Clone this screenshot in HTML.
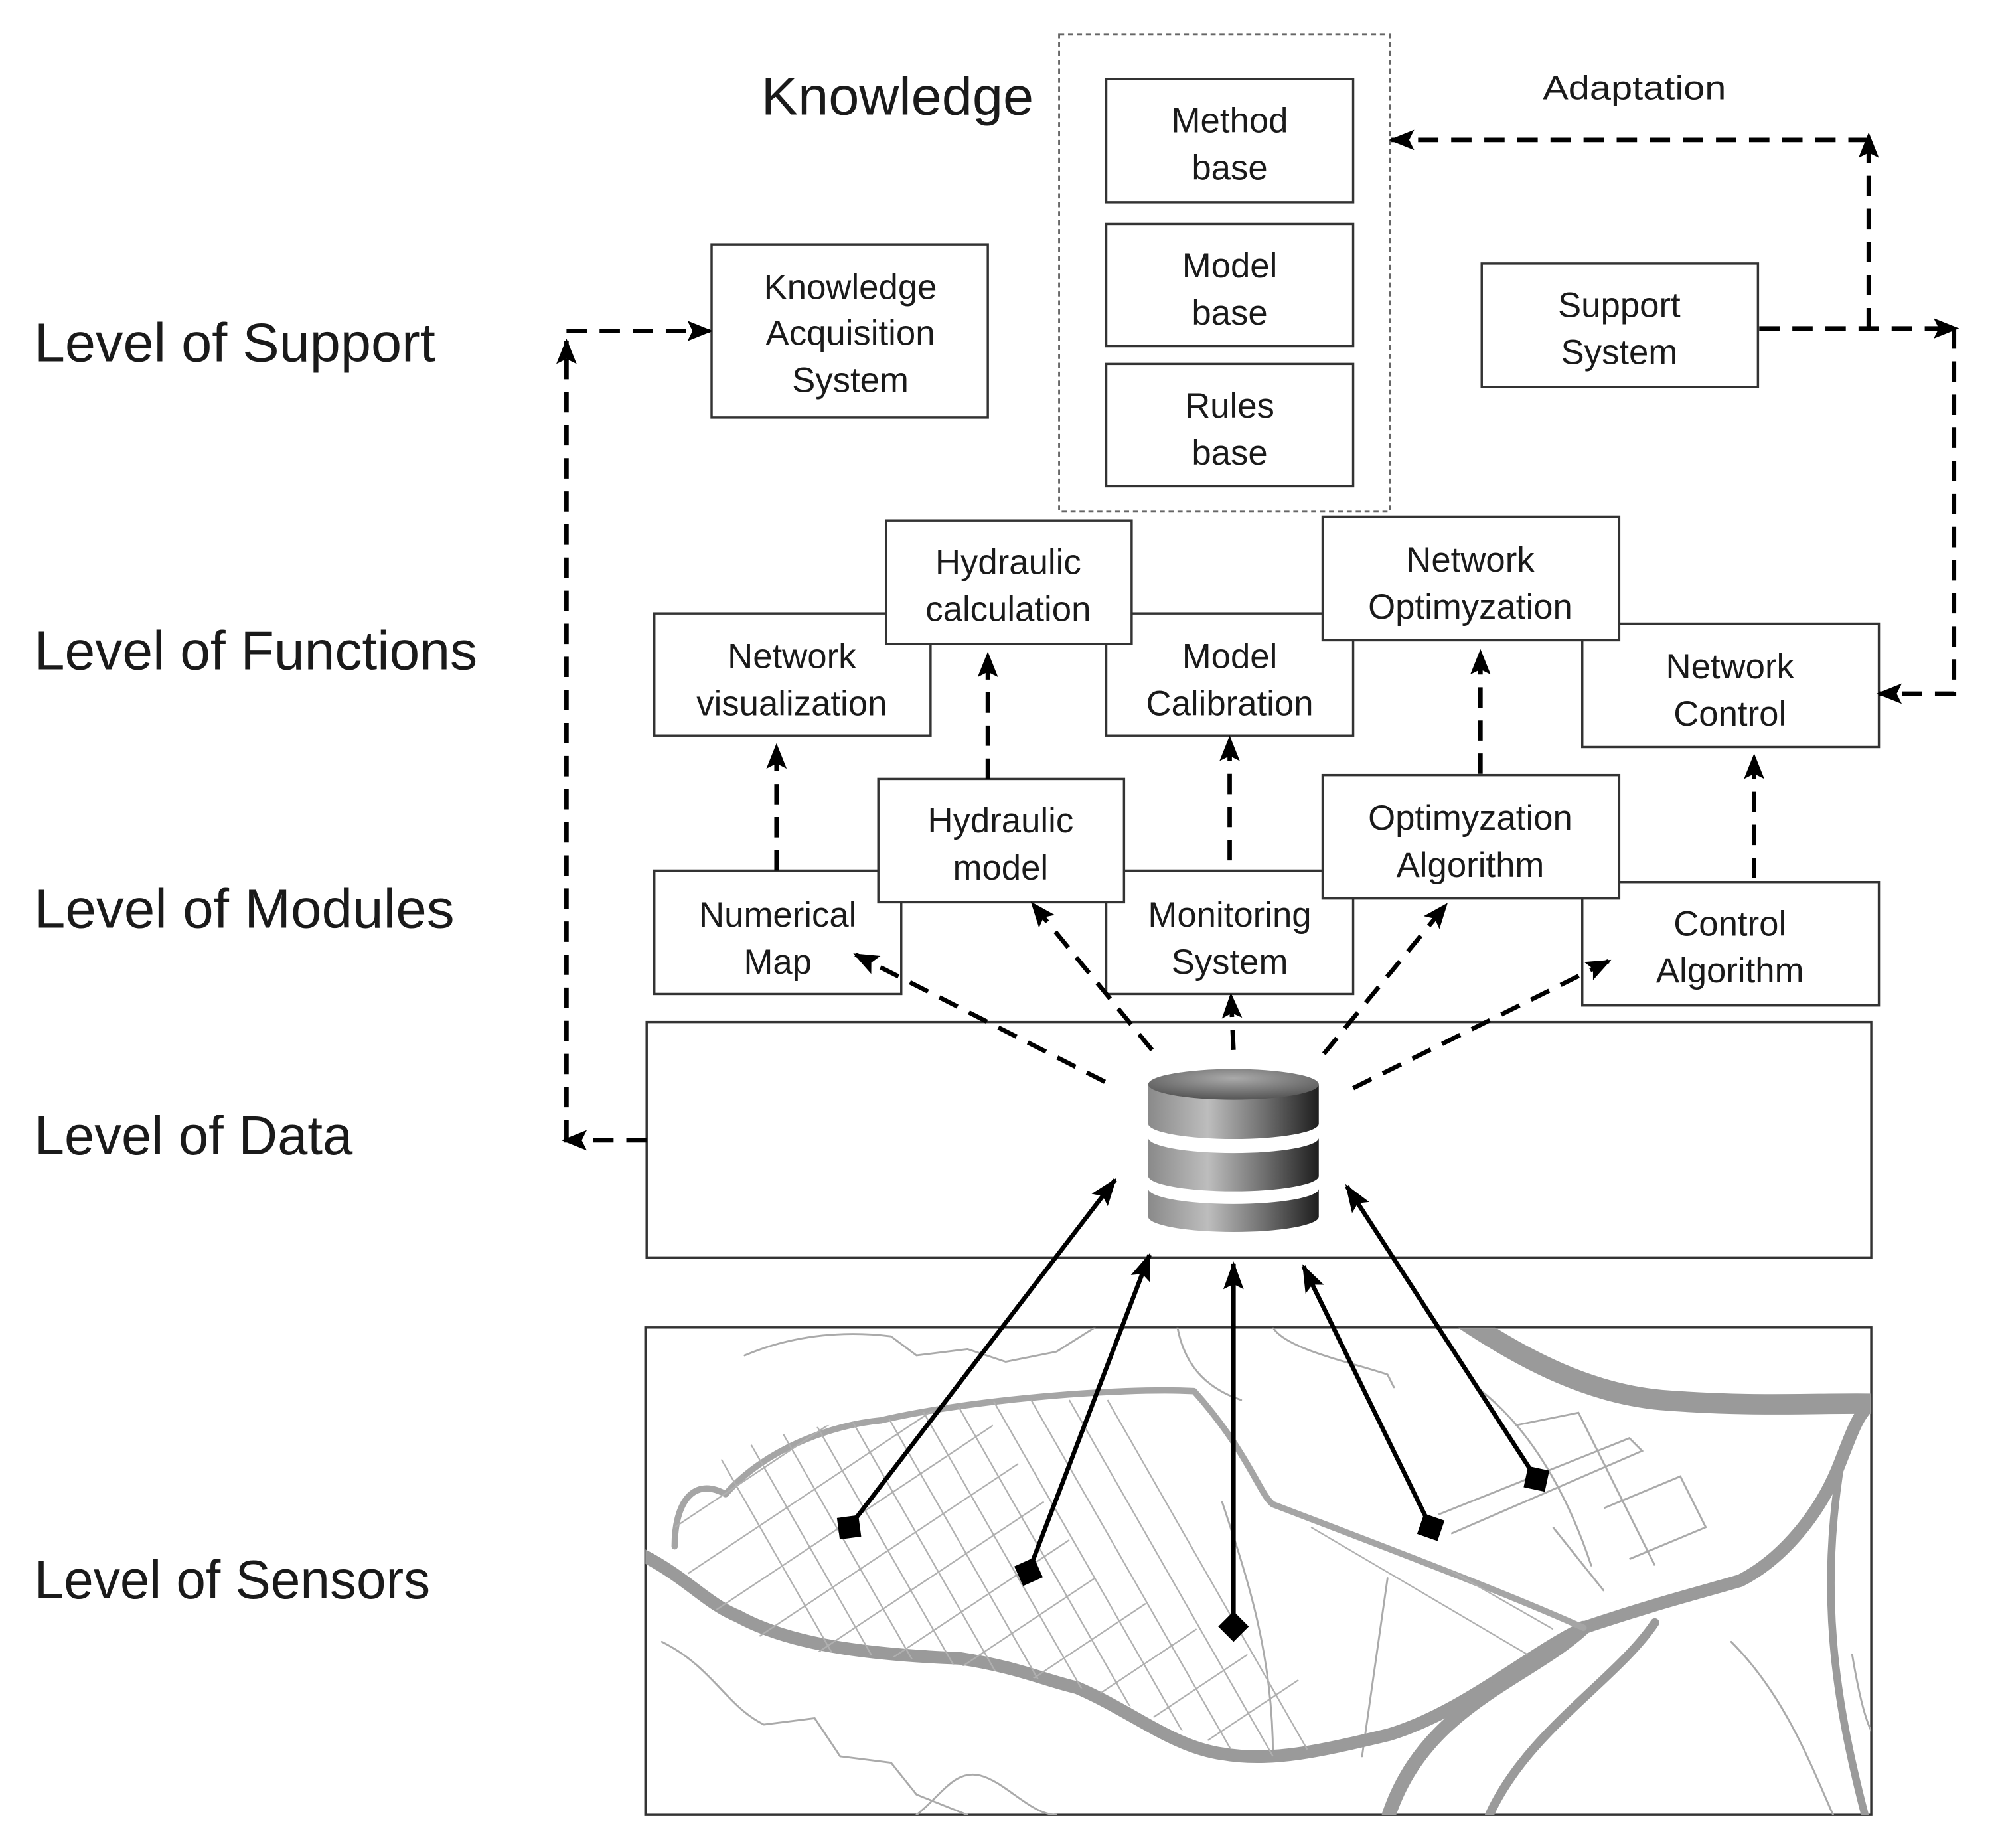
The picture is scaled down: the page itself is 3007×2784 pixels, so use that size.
<!DOCTYPE html>
<html><head><meta charset="utf-8"><style>
html,body{margin:0;padding:0;background:#fff;overflow:hidden;width:3007px;height:2784px;}
svg{display:block;}
text{font-family:"Liberation Sans",sans-serif;fill:#1a1a1a;}
</style></head><body>
<svg width="3007" height="2784" viewBox="0 0 1568 1452" preserveAspectRatio="none" xmlns="http://www.w3.org/2000/svg">
<defs>
<marker id="ah" markerWidth="20" markerHeight="16" refX="18" refY="8" orient="auto" markerUnits="userSpaceOnUse"><path d="M0,0 L20,8 L0,16 L4,8 z" fill="#000"/></marker>
<marker id="ahb" markerWidth="22" markerHeight="16" refX="20" refY="8" orient="auto" markerUnits="userSpaceOnUse"><path d="M0,0 L22,8 L0,16 L4,8 z" fill="#000"/></marker>
<marker id="dm" markerWidth="26" markerHeight="26" refX="13" refY="13" orient="auto" markerUnits="userSpaceOnUse"><path d="M13,1 L25,13 L13,25 L1,13 z" fill="#000"/></marker>
<linearGradient id="cyl" x1="0" x2="1" y1="0" y2="0"><stop offset="0" stop-color="#8a8a8a"/><stop offset="0.35" stop-color="#bdbdbd"/><stop offset="0.7" stop-color="#6a6a6a"/><stop offset="1" stop-color="#1e1e1e"/></linearGradient>
<radialGradient id="top" cx="0.5" cy="0.3" r="0.7"><stop offset="0" stop-color="#aaa"/><stop offset="1" stop-color="#555"/></radialGradient>
<clipPath id="island"><path d="M530,1190 C540,1150 600,1120 692,1116 C760,1100 880,1090 938,1093 C980,1130 990,1175 1000,1182 C1060,1200 1180,1250 1244,1279 C1170,1320 1090,1363 999,1381 C930,1370 880,1330 846,1326 C780,1310 700,1300 631,1297 C560,1280 530,1240 530,1190 z"/></clipPath>
<clipPath id="mapc"><rect x="507" y="1043" width="963" height="383"/></clipPath>
</defs>

<g font-size="43">
<text x="27" y="284" textLength="315" lengthAdjust="spacingAndGlyphs">Level of Support</text>
<text x="27" y="526" textLength="348" lengthAdjust="spacingAndGlyphs">Level of Functions</text>
<text x="27" y="729" textLength="330" lengthAdjust="spacingAndGlyphs">Level of Modules</text>
<text x="27" y="907" textLength="250" lengthAdjust="spacingAndGlyphs">Level of Data</text>
<text x="27" y="1256" textLength="311" lengthAdjust="spacingAndGlyphs">Level of Sensors</text>
</g>
<text x="598" y="90" font-size="42" textLength="214" lengthAdjust="spacingAndGlyphs">Knowledge</text>
<text x="1212" y="78" font-size="26" textLength="144" lengthAdjust="spacingAndGlyphs">Adaptation</text>

<rect x="832" y="27" width="260" height="375" fill="none" stroke="#666" stroke-width="1.5" stroke-dasharray="4,3"/>

<g fill="#fff" stroke="#333" stroke-width="1.8">
<rect x="869" y="62" width="194" height="97"/>
<rect x="869" y="176" width="194" height="96"/>
<rect x="869" y="286" width="194" height="96"/>
<rect x="559" y="192" width="217" height="136"/>
<rect x="1164" y="207" width="217" height="97"/>
<rect x="514" y="482" width="217" height="96"/>
<rect x="869" y="482" width="194" height="96"/>
<rect x="1243" y="490" width="233" height="97"/>
<rect x="696" y="409" width="193" height="97"/>
<rect x="1039" y="406" width="233" height="97"/>
<rect x="514" y="684" width="194" height="97"/>
<rect x="869" y="684" width="194" height="97"/>
<rect x="1243" y="693" width="233" height="97"/>
<rect x="690" y="612" width="193" height="97"/>
<rect x="1039" y="609" width="233" height="97"/>
<rect x="508" y="803" width="962" height="185"/>
<rect x="507" y="1043" width="963" height="383"/>
</g>

<g font-size="27.5" text-anchor="middle">
<text x="966" y="104">Method</text><text x="966" y="141">base</text>
<text x="966" y="218">Model</text><text x="966" y="255">base</text>
<text x="966" y="328">Rules</text><text x="966" y="365">base</text>
<text x="668" y="235">Knowledge</text><text x="668" y="271">Acquisition</text><text x="668" y="308">System</text>
<text x="1272" y="249">Support</text><text x="1272" y="286">System</text>
<text x="622" y="525">Network</text><text x="622" y="562">visualization</text>
<text x="966" y="525">Model</text><text x="966" y="562">Calibration</text>
<text x="1359" y="533">Network</text><text x="1359" y="570">Control</text>
<text x="792" y="451">Hydraulic</text><text x="792" y="488">calculation</text>
<text x="1155" y="449">Network</text><text x="1155" y="486">Optimyzation</text>
<text x="611" y="728">Numerical</text><text x="611" y="765">Map</text>
<text x="966" y="728">Monitoring</text><text x="966" y="765">System</text>
<text x="1359" y="735">Control</text><text x="1359" y="772">Algorithm</text>
<text x="786" y="654">Hydraulic</text><text x="786" y="691">model</text>
<text x="1155" y="652">Optimyzation</text><text x="1155" y="689">Algorithm</text>
</g>

<g clip-path="url(#mapc)" fill="none" stroke-linecap="round" stroke-linejoin="round">
<g stroke="#aaa" stroke-width="1.5">
<path d="M585,1065 C620,1050 660,1045 700,1050 L720,1065 L760,1060 L790,1070 L830,1062 L860,1043"/>
<path d="M925,1043 C930,1070 945,1090 975,1100"/>
<path d="M1000,1043 C1010,1060 1060,1070 1090,1080 L1095,1090"/>
<path d="M1160,1090 C1200,1120 1230,1170 1250,1230"/>
<path d="M520,1290 C560,1310 570,1340 600,1355 L640,1350 L660,1380 L700,1385 L720,1410 L760,1426"/>
<path d="M770,1395 C790,1400 810,1426 830,1426"/>
<path d="M720,1426 C740,1410 750,1390 770,1395"/>
<path d="M1360,1290 C1400,1330 1420,1380 1440,1426"/>
<path d="M1455,1300 C1460,1330 1465,1350 1470,1360"/>
<path d="M960,1180 C980,1240 1000,1300 1000,1380 M1090,1240 L1070,1380"/>
</g>
<path d="M505,1222 C540,1240 555,1260 580,1270 C620,1292 680,1300 754,1303 C800,1310 820,1320 846,1326 C890,1345 920,1372 960,1378 C1000,1385 1040,1375 1091,1363 C1150,1345 1200,1300 1244,1279 C1300,1260 1340,1250 1367,1242 C1400,1225 1430,1190 1446,1148 C1455,1125 1460,1110 1470,1103" stroke="#9a9a9a" stroke-width="10"/>
<path d="M1244,1279 C1200,1320 1120,1340 1091,1426" stroke="#9a9a9a" stroke-width="11"/>
<path d="M1300,1275 C1270,1320 1200,1360 1170,1426" stroke="#9a9a9a" stroke-width="7"/>
<path d="M1446,1150 C1430,1250 1440,1330 1465,1426" stroke="#9a9a9a" stroke-width="6"/>
<path d="M1152,1038 C1200,1070 1250,1095 1305,1100 C1380,1106 1430,1102 1475,1103" stroke="#9a9a9a" stroke-width="16"/>
<path d="M530,1215 C530,1180 545,1160 570,1174 C600,1140 650,1120 692,1116 C760,1100 880,1090 938,1093 C980,1140 990,1175 1000,1182 C1060,1205 1180,1250 1244,1279" stroke="#a5a5a5" stroke-width="5"/>
</g>
<g clip-path="url(#island)" stroke="#b0b0b0" stroke-width="1.2" fill="none">
<path d="M400,1200 L700,1000 M420,1230 L720,1030 M440,1260 L740,1060 M460,1290 L760,1090 M480,1320 L780,1120 M500,1350 L800,1150 M520,1380 L820,1180 M540,1410 L840,1210 M560,1440 L860,1240 M600,1460 L900,1260 M640,1480 L940,1280 M680,1500 L980,1300 M720,1520 L1020,1320"/>
<path d="M540,1100 L700,1380 M570,1100 L730,1380 M600,1100 L760,1380 M630,1100 L790,1380 M660,1100 L820,1380 M690,1100 L850,1380 M720,1100 L880,1380 M750,1100 L910,1380 M780,1100 L940,1380 M810,1100 L970,1380 M840,1100 L1000,1380 M870,1100 L1030,1380"/>
<path d="M1030,1200 L1200,1300 M1080,1200 L1220,1280"/>
</g>
<g stroke="#aaa" stroke-width="1.5" fill="none">
<path d="M1130,1190 L1280,1130 L1290,1140 L1140,1205 M1260,1185 L1320,1160 L1340,1200 L1280,1225"/>
<path d="M1190,1120 L1240,1110 L1300,1230 M1220,1200 L1260,1250"/>
</g>

<g>
<path d="M902,934 v22 a67,12 0 0 0 134,0 v-22 a67,12 0 0 1 -134,0 z" fill="url(#cyl)"/>
<path d="M902,894 v30 a67,12 0 0 0 134,0 v-30 a67,12 0 0 1 -134,0 z" fill="url(#cyl)"/>
<path d="M902,852 v31 a67,12 0 0 0 134,0 v-31 z" fill="url(#cyl)"/>
<ellipse cx="969" cy="852" rx="67" ry="12" fill="url(#top)"/>
</g>

<g stroke="#000" stroke-width="3.5" fill="none" stroke-dasharray="16,10" marker-end="url(#ah)">
<path d="M868,850 L672,750"/>
<path d="M905,825 L811,710"/>
<path d="M969,825 L967,782"/>
<path d="M1040,828 L1136,711"/>
<path d="M1063,855 L1264,755"/>
<path d="M610,684 L610,586"/>
<path d="M776,612 L776,514"/>
<path d="M966,676 L966,580"/>
<path d="M1163,608 L1163,512"/>
<path d="M1378,690 L1378,594"/>
<path d="M508,896 L443,896"/>
<path d="M445,896 L445,268"/>
<path d="M445,260 L558,260"/>
<path d="M1382,258 L1537,258"/>
<path d="M1535,258 L1535,545 L1476,545"/>
<path d="M1468,258 L1468,106"/>
<path d="M1468,110 L1093,110"/>
</g>

<g stroke="#000" stroke-width="3.5" fill="none" marker-end="url(#ahb)" marker-start="url(#dm)">
<path d="M667,1200 L876,927"/>
<path d="M808,1235 L903,986"/>
<path d="M969,1278 L969,993"/>
<path d="M1124,1200 L1024,995"/>
<path d="M1207,1162 L1058,932"/>
</g>
</svg>
</body></html>
